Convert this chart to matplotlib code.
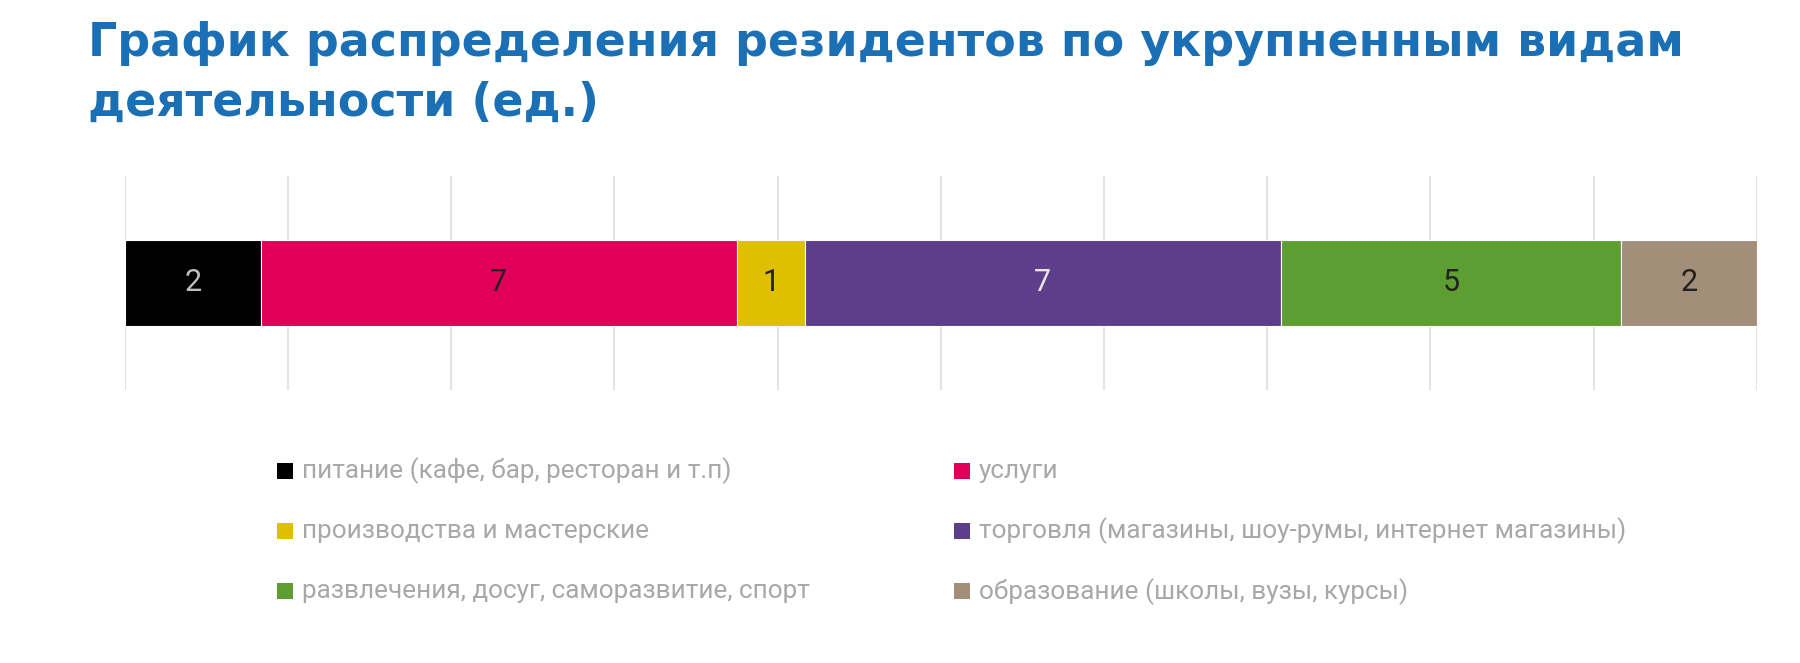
#!/usr/bin/env python3

import matplotlib.pyplot as plt
from matplotlib.patches import Rectangle

#################################################
### Data
#################################################

categories = [
    'питание (кафе, бар, ресторан и т.п)',
    'услуги',
    'производства и мастерские',
    'торговля (магазины, шоу-румы, интернет магазины)',
    'развлечения, досуг, саморазвитие, спорт',
    'образование (школы, вузы, курсы)',
]
values = [2, 7, 1, 7, 5, 2]
colors = ['#000000', '#e0005a', '#dfc000', '#5c3e8a', '#5c9e31', '#a38e79']
label_colors = ['#bfbfbf', '#222222', '#222222', '#e6e6e6', '#222222', '#222222']
title = 'График распределения резидентов по укрупненным видам\nдеятельности (ед.)'

#################################################
### Plot
#################################################

fig = plt.figure(figsize=(18, 6.63), dpi=100)
fig.patch.set_facecolor('white')

fig.text(0.049, 0.968, title, color='#1a6fb5', fontsize=33, fontweight='bold',
         family=['DejaVu Sans'], va='top', ha='left', linespacing=1.42)

ax = fig.add_axes([0.0694, 0.412, 0.9066, 0.3225])

left = 0
for value, color, lab_color in zip(values, colors, label_colors):
    ax.barh(0, value, left=left, height=0.4, color=color, edgecolor='white', linewidth=0.8, zorder=3)
    ax.text(left + value / 2, 0, str(value), ha='center', va='center',
            fontsize=22, color=lab_color, family=['Roboto'], zorder=4)
    left += value

total = sum(values)
ax.set_xlim(0, total)
ax.set_ylim(-0.5, 0.5)
ax.set_xticks([total * i / 10 for i in range(11)])
ax.set_yticks([])
ax.grid(True, axis='x', color='#e3e3e3', linewidth=1.5, zorder=0)
ax.tick_params(axis='x', length=0, labelbottom=False)
for spine in ax.spines.values():
    spine.set_visible(False)

# legend, two columns
col_x = [0.154, 0.530]
row_y = [0.290, 0.199, 0.108]
for i, (cat, color) in enumerate(zip(categories, colors)):
    x = col_x[i % 2]
    y = row_y[i // 2]
    fig.add_artist(Rectangle((x, y - 0.012), 0.0089, 0.024, transform=fig.transFigure,
                             facecolor=color, edgecolor='none'))
    fig.text(x + 0.0138, y, cat, color='#a8a8a8', fontsize=18.8, family=['Roboto'],
             va='center', ha='left')

fig.savefig('out.png', dpi=100)
